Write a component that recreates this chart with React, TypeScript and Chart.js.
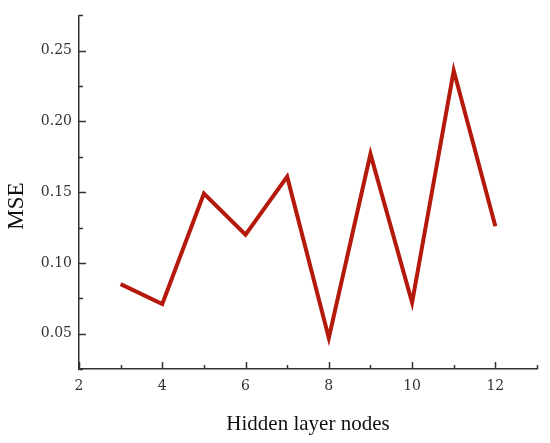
import React, { useEffect, useRef } from "react";
import { Chart, registerables } from "chart.js";

Chart.register(...registerables);

const nodes = [3, 4, 5, 6, 7, 8, 9, 10, 11, 12];
const mse = [0.085, 0.071, 0.149, 0.12, 0.161, 0.047, 0.177, 0.072, 0.236, 0.126];
const xTickLabels = [2, 4, 6, 8, 10, 12];
const yTickLabels = [0.05, 0.1, 0.15, 0.2, 0.25];
const yTitle = "MSE";

const inwardTicks = {
  id: "inwardTicks",
  afterDraw(chart: any) {
    const ctx = chart.ctx;
    const area = chart.chartArea;
    ctx.save();
    ctx.strokeStyle = "#333";
    ctx.lineWidth = 1.5;
    const xs = chart.scales.x;
    xs.ticks.forEach((t: any) => {
      const px = Math.round(xs.getPixelForValue(t.value)) + 0.5;
      const major = xTickLabels.includes(Math.round(t.value)) && Math.abs(t.value - Math.round(t.value)) < 1e-6;
      const len = major ? 7 : 4;
      ctx.beginPath();
      ctx.moveTo(px, area.bottom);
      ctx.lineTo(px, area.bottom - len);
      ctx.stroke();
    });
    const ys = chart.scales.y;
    ys.ticks.forEach((t: any) => {
      const py = Math.round(ys.getPixelForValue(t.value)) + 0.5;
      const major = yTickLabels.some((v) => Math.abs(v - t.value) < 1e-6);
      const len = major ? 7 : 4;
      ctx.beginPath();
      ctx.moveTo(area.left, py);
      ctx.lineTo(area.left + len, py);
      ctx.stroke();
    });
    // y axis title
    ctx.fillStyle = "#111";
    ctx.font = "23px 'Liberation Serif'";
    ctx.textAlign = "center";
    ctx.textBaseline = "middle";
    ctx.translate(17, 206);
    ctx.rotate(-Math.PI / 2);
    ctx.fillText(yTitle, 0, 0);
    ctx.restore();
  },
};

export default function App() {
  const ref = useRef<HTMLCanvasElement>(null);
  useEffect(() => {
    const chart = new Chart(ref.current as HTMLCanvasElement, {
      type: "line",
      data: {
        datasets: [
          {
            data: nodes.map((n, i) => ({ x: n, y: mse[i] })),
            borderColor: "#b5190c",
            borderWidth: 4,
            pointRadius: 0,
            borderJoinStyle: "miter",
            tension: 0,
          },
        ],
      },
      options: {
        animation: false,
        responsive: false,
        maintainAspectRatio: false,
        layout: { padding: { top: 11, right: 13, left: 0, bottom: 0 } },
        plugins: { legend: { display: false }, tooltip: { enabled: false } },
        scales: {
          x: {
            type: "linear",
            min: 2,
            max: 13,
            afterFit: (s: any) => {
              s.height = 74;
            },
            grid: { display: false, drawTicks: false, tickLength: 0 },
            border: { display: true, color: "#333", width: 1.5 },
            ticks: {
              stepSize: 1,
              autoSkip: false,
              maxRotation: 0,
              padding: 9,
              color: "#333",
              font: { family: "DejaVu Serif", size: 14 },
              callback: (v: any) => (xTickLabels.includes(Number(v)) ? String(v) : ""),
            },
            title: {
              display: true,
              text: "Hidden layer nodes",
              color: "#111",
              font: { family: "Liberation Serif", size: 21 },
              padding: { top: 10, bottom: 6 },
            },
          },
          y: {
            type: "linear",
            min: 0.025,
            max: 0.275,
            afterFit: (s: any) => {
              s.width = 79;
            },
            grid: { display: false, drawTicks: false, tickLength: 0 },
            border: { display: true, color: "#333", width: 1.5 },
            ticks: {
              stepSize: 0.025,
              autoSkip: false,
              padding: 7,
              color: "#333",
              font: { family: "DejaVu Serif", size: 14 },
              callback: (v: any) => {
                const m = yTickLabels.find((t) => Math.abs(t - Number(v)) < 1e-6);
                return m !== undefined ? m.toFixed(2) : "";
              },
            },
          },
        },
      },
      plugins: [inwardTicks],
    } as any);
    return () => chart.destroy();
  }, []);
  return (
    <div style={{ position: "fixed", left: 0, top: 0, width: 550, height: 443, background: "#fff" }}>
      <canvas ref={ref} width={550} height={443} style={{ width: 550, height: 443 }} />
    </div>
  );
}
